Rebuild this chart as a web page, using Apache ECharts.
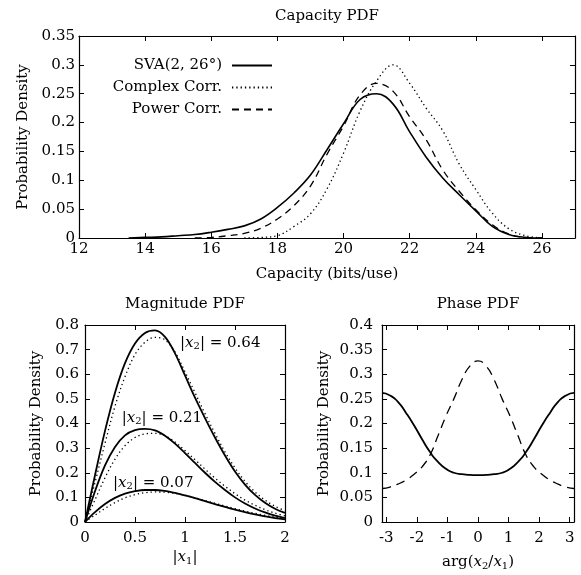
<!DOCTYPE html>
<html>
<head>
<meta charset="utf-8">
<script src="https://cdn.jsdelivr.net/npm/echarts@6/dist/echarts.min.js"></script>
<style>
html, body { margin: 0; padding: 0; background: #fff; }
#main { width: 581px; height: 575px; }
</style>
</head>
<body>
<div id="main"></div>
<script>
// Capacity PDF
var capX = [13, 13.5, 14, 14.5, 15, 15.5, 16, 16.5, 17, 17.5, 18, 18.5, 19, 19.5, 20, 20.5, 21, 21.5, 22, 22.5, 23, 23.5, 24, 24.5, 25, 25.5, 26];
var svaCap = [null, 0, 0.001, 0.002, 0.004, 0.006, 0.010, 0.015, 0.021, 0.033, 0.053, 0.078, 0.109, 0.153, 0.198, 0.240, 0.250, 0.232, 0.184, 0.140, 0.104, 0.075, 0.047, 0.020, 0.006, 0.001, 0];
var complexCap = [null, null, null, null, null, null, null, null, 0, 0.001, 0.004, 0.020, 0.042, 0.085, 0.147, 0.220, 0.272, 0.300, 0.268, 0.225, 0.186, 0.128, 0.084, 0.043, 0.016, 0.004, 0];
var powerCap = [null, null, null, null, null, 0, 0.001, 0.004, 0.008, 0.017, 0.033, 0.056, 0.090, 0.145, 0.194, 0.248, 0.268, 0.254, 0.210, 0.170, 0.118, 0.081, 0.049, 0.023, 0.007, 0.001, 0];

// Magnitude PDF
var magX = [0, 0.1, 0.2, 0.3, 0.4, 0.5, 0.6, 0.7, 0.8, 0.9, 1.0, 1.1, 1.2, 1.3, 1.4, 1.5, 1.6, 1.7, 1.8, 1.9, 2.0];
var magSolid064 = [0, 0.19, 0.37, 0.525, 0.645, 0.725, 0.768, 0.778, 0.752, 0.685, 0.595, 0.505, 0.422, 0.343, 0.27, 0.205, 0.152, 0.11, 0.078, 0.054, 0.037];
var magDotted064 = [0, 0.16, 0.32, 0.47, 0.59, 0.68, 0.73, 0.75, 0.74, 0.69, 0.61, 0.525, 0.44, 0.36, 0.285, 0.22, 0.165, 0.122, 0.089, 0.064, 0.046];
var magSolid021 = [0, 0.125, 0.23, 0.305, 0.352, 0.373, 0.378, 0.372, 0.35, 0.318, 0.28, 0.24, 0.2, 0.163, 0.13, 0.1, 0.075, 0.055, 0.039, 0.026, 0.016];
var magDotted021 = [0, 0.09, 0.18, 0.255, 0.31, 0.343, 0.358, 0.36, 0.35, 0.325, 0.29, 0.253, 0.215, 0.178, 0.145, 0.115, 0.089, 0.068, 0.05, 0.036, 0.025];
var magSolid007 = [0, 0.04, 0.073, 0.098, 0.115, 0.125, 0.13, 0.13, 0.126, 0.118, 0.108, 0.097, 0.085, 0.073, 0.061, 0.05, 0.04, 0.031, 0.023, 0.016, 0.011];
var magDotted007 = [0, 0.028, 0.055, 0.079, 0.098, 0.111, 0.119, 0.122, 0.121, 0.116, 0.108, 0.098, 0.087, 0.076, 0.065, 0.054, 0.044, 0.035, 0.027, 0.02, 0.014];

// Phase PDF
var phaseX = [-3.14, -2.88, -2.62, -2.36, -2.09, -1.83, -1.57, -1.31, -1.05, -0.79, -0.52, -0.26, 0, 0.26, 0.52, 0.79, 1.05, 1.31, 1.57, 1.83, 2.09, 2.36, 2.62, 2.88, 3.14];
var phaseSolid = [0.262, 0.257, 0.244, 0.222, 0.196, 0.168, 0.142, 0.122, 0.108, 0.100, 0.097, 0.0955, 0.095, 0.0955, 0.097, 0.100, 0.108, 0.122, 0.142, 0.168, 0.196, 0.222, 0.244, 0.257, 0.262];
var phaseDashed = [0.068, 0.071, 0.077, 0.085, 0.097, 0.112, 0.136, 0.175, 0.215, 0.25, 0.29, 0.317, 0.327, 0.317, 0.29, 0.25, 0.215, 0.175, 0.136, 0.112, 0.097, 0.085, 0.077, 0.071, 0.068];

var phaseTicks = [-3, -2, -1, 0, 1, 2, 3];

var font = 'DejaVu Serif';
var fs = 15;

function pairs(xs, ys) {
    var out = [];
    for (var i = 0; i < xs.length; i++) {
        out.push([xs[i], ys[i]]);
    }
    return out;
}

var richText = {
    a: { fontFamily: font, fontSize: fs, color: '#000', lineHeight: 18 },
    i: { fontFamily: font, fontSize: fs, fontStyle: 'italic', color: '#000', lineHeight: 18 },
    s: { fontFamily: font, fontSize: 10, color: '#000', lineHeight: 11, verticalAlign: 'bottom' }
};

// axis pair with inside ticks on all four sides
function xAxes(grid, min, max, interval, name, gap, margin, extra) {
    var base = {
        type: 'value', gridIndex: grid, min: min, max: max, interval: interval,
        axisLine: { onZero: false, lineStyle: { color: '#000', width: 1.2 } },
        axisTick: { inside: true, length: 5, lineStyle: { color: '#000' } },
        splitLine: { show: false }
    };
    var bottom = Object.assign({}, base, {
        position: 'bottom', name: name, nameLocation: 'middle', nameGap: gap,
        nameTextStyle: { fontFamily: font, fontSize: fs, color: '#000', rich: richText },
        axisLabel: { margin: margin, fontFamily: font, fontSize: fs, color: '#000', showMaxLabel: extra.showMax }
    });
    var top = Object.assign({}, base, { position: 'top', axisLabel: { show: false } });
    if (extra.custom) {
        delete bottom.interval;
        delete top.interval;
        bottom.axisLabel.customValues = extra.custom;
        bottom.axisTick = Object.assign({}, base.axisTick, { customValues: extra.custom });
        top.axisTick = Object.assign({}, base.axisTick, { customValues: extra.custom });
    }
    return [bottom, top];
}

function yAxes(grid, max, interval, gap, margin) {
    var base = {
        type: 'value', gridIndex: grid, min: 0, max: max, interval: interval,
        axisLine: { show: true, onZero: false, lineStyle: { color: '#000', width: 1.2 } },
        axisTick: { show: true, inside: true, length: 5, lineStyle: { color: '#000' } },
        splitLine: { show: false }
    };
    var left = Object.assign({}, base, {
        position: 'left', name: 'Probability Density', nameLocation: 'middle', nameGap: gap,
        nameTextStyle: { fontFamily: font, fontSize: fs, color: '#000' },
        axisLabel: { margin: margin, fontFamily: font, fontSize: fs, color: '#000' }
    });
    var right = Object.assign({}, base, { position: 'right', axisLabel: { show: false } });
    return [left, right];
}

var xa = [].concat(
    xAxes(0, 12, 27, 2, 'Capacity (bits/use)', 29, 4, { showMax: false }),
    xAxes(1, 0, 2, 0.5, '{a||}{i|x}{s|1}{a||}', 26, 9, { showMax: true }),
    xAxes(2, -Math.PI, Math.PI, null, '{a|arg(}{i|x}{s|2}{a|/}{i|x}{s|1}{a|)}', 31, 9, { showMax: true, custom: phaseTicks })
);

var ya = [].concat(
    yAxes(0, 0.35, 0.05, 48, 4),
    yAxes(1, 0.8, 0.1, 41, 6),
    yAxes(2, 0.4, 0.05, 50, 9)
);

function line(name, xi, yi, data, type, width, smooth) {
    return {
        name: name, type: 'line', xAxisIndex: xi, yAxisIndex: yi,
        data: data, symbol: 'none', smooth: smooth, connectNulls: false,
        lineStyle: { color: '#000', width: width, type: type },
        itemStyle: { color: '#000' }
    };
}

function magLabel(text, x, y) {
    return {
        symbol: 'circle', symbolSize: 0, silent: true,
        data: [{ coord: [x, y] }],
        label: { show: true, position: 'right', distance: 0, formatter: text, rich: richText }
    };
}

var s64 = line('m064', 2, 2, pairs(magX, magSolid064), 'solid', 1.8, 0.35);
s64.markPoint = magLabel('{a||}{i|x}{s|2}{a|| = 0.64}', 0.95, 0.728);
var s21 = line('m021', 2, 2, pairs(magX, magSolid021), 'solid', 1.8, 0.35);
s21.markPoint = magLabel('{a||}{i|x}{s|2}{a|| = 0.21}', 0.367, 0.423);
var s07 = line('m007', 2, 2, pairs(magX, magSolid007), 'solid', 1.8, 0.35);
s07.markPoint = magLabel('{a||}{i|x}{s|2}{a|| = 0.07}', 0.28, 0.159);

var titleStyle = { fontFamily: font, fontSize: fs, fontWeight: 'normal', color: '#000' };

var option = {
    backgroundColor: '#fff',
    animation: false,
    title: [
        { text: 'Capacity PDF', left: 327, top: 9, textAlign: 'center', padding: 0, textStyle: titleStyle },
        { text: 'Magnitude PDF', left: 185, top: 297, textAlign: 'center', padding: 0, textStyle: titleStyle },
        { text: 'Phase PDF', left: 478, top: 297, textAlign: 'center', padding: 0, textStyle: titleStyle }
    ],
    legend: {
        data: ['SVA(2, 26°)', 'Complex Corr.', 'Power Corr.'],
        orient: 'vertical', align: 'right', right: 308, top: 58,
        itemWidth: 40, itemHeight: 14, itemGap: 7, padding: 0,
        itemStyle: { color: 'rgba(0,0,0,0)', borderColor: 'rgba(0,0,0,0)', borderWidth: 0, opacity: 0 },
        textStyle: { fontFamily: font, fontSize: fs, color: '#000', padding: [0, 5, 0, 0] },
        selectedMode: false
    },
    grid: [
        { left: 79, top: 36, width: 496, height: 202 },
        { left: 85, top: 325, width: 200, height: 197 },
        { left: 382, top: 325, width: 192, height: 197 }
    ],
    xAxis: xa,
    yAxis: ya,
    series: [
        line('SVA(2, 26°)', 0, 0, pairs(capX, svaCap), 'solid', 1.6, 0.4),
        line('Complex Corr.', 0, 0, pairs(capX, complexCap), [1.3, 3], 1.3, 0.4),
        line('Power Corr.', 0, 0, pairs(capX, powerCap), [7, 5], 1.3, 0.4),
        s64,
        line('d064', 2, 2, pairs(magX, magDotted064), [1.3, 3], 1.3, 0.35),
        s21,
        line('d021', 2, 2, pairs(magX, magDotted021), [1.3, 3], 1.3, 0.35),
        s07,
        line('d007', 2, 2, pairs(magX, magDotted007), [1.3, 3], 1.3, 0.35),
        line('phase solid', 4, 4, pairs(phaseX, phaseSolid), 'solid', 1.8, 0.6),
        line('phase dashed', 4, 4, pairs(phaseX, phaseDashed), [9, 6], 1.3, 0.5)
    ]
};

var myChart = echarts.init(document.getElementById('main'));
myChart.setOption(option);
</script>
</body>
</html>
